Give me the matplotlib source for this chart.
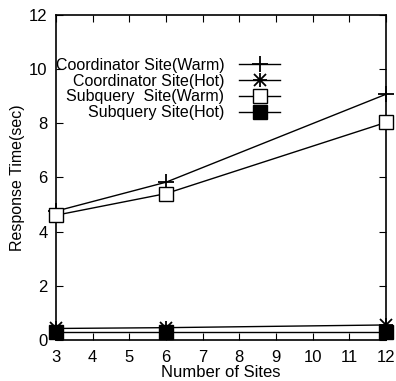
import matplotlib
matplotlib.use("Agg")
import matplotlib.pyplot as plt
from matplotlib.lines import Line2D

sites = [3, 6, 12]
coord_warm = [4.75, 5.82, 9.07]
coord_hot = [0.42, 0.45, 0.55]
sub_warm = [4.6, 5.4, 8.03]
sub_hot = [0.3, 0.3, 0.3]

plt.rcParams['font.family'] = ['Liberation Sans', 'DejaVu Sans']
fig = plt.figure(figsize=(3.96, 3.81), dpi=100)
ax = fig.add_axes([0.141, 0.108, 0.834, 0.853])

lw = 1.0
kw = dict(clip_on=False, zorder=3)
ax.plot(sites, coord_warm, color='black', lw=lw, marker='+', ms=11, mew=1.3, **kw)
ax.plot(sites, coord_hot, color='black', lw=lw, marker='+', ms=10, mew=1.3, **kw)
ax.plot(sites, coord_hot, ls='none', marker='x', ms=8, mew=1.3, mec='black', **kw)
ax.plot(sites, sub_warm, color='black', lw=lw, marker='s', ms=10, mfc='white', mec='black', mew=1.0, **kw)
ax.plot(sites, sub_hot, color='black', lw=lw, marker='s', ms=10, mfc='black', mec='black', **kw)

ax.set_xlim(3, 12)
ax.set_ylim(0, 12)
ax.set_xticks(range(3, 13))
ax.set_yticks(range(0, 13, 2))
ax.tick_params(direction='in', top=True, right=True, length=5, labelsize=12)
ax.tick_params(axis='x', pad=7)
ax.tick_params(axis='y', pad=6)
for s in ax.spines.values():
    s.set_linewidth(1.2)
ax.set_xlabel('Number of Sites', fontsize=12, labelpad=0)
ax.set_ylabel('Response Time(sec)', fontsize=11.5, labelpad=3)

h1 = Line2D([], [], color='black', lw=lw, marker='+', ms=12, mew=1.3)
h2a = Line2D([], [], color='black', lw=lw, marker='+', ms=10, mew=1.3)
h2b = Line2D([], [], ls='none', marker='x', ms=8, mew=1.3, mec='black')
h3 = Line2D([], [], color='black', lw=lw, marker='s', ms=10, mfc='white', mec='black')
h4 = Line2D([], [], color='black', lw=lw, marker='s', ms=10, mfc='black', mec='black')
leg = ax.legend([h1, (h2a, h2b), h3, h4],
          ['Coordinator Site(Warm)', 'Coordinator Site(Hot)', 'Subquery  Site(Warm)', 'Subquery Site(Hot)'],
          loc='center', bbox_to_anchor=(0.34, 0.772), frameon=False, markerfirst=False,
          fontsize=11.5, handlelength=2.6, labelspacing=0.05, handletextpad=0.9, borderpad=0, borderaxespad=0)
for t in leg.get_texts():
    t.set_ha('right')
    t.set_position((0, 0))

fig.savefig('out.png', dpi=100)
